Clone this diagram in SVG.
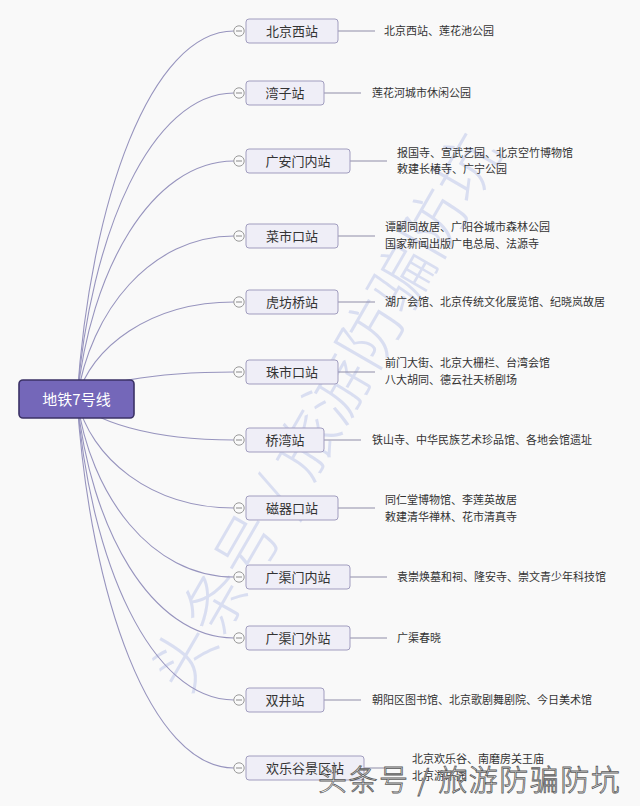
<svg xmlns="http://www.w3.org/2000/svg" width="640" height="806" viewBox="0 0 640 806">
<style>
.bg{fill:#f9f9f9}
.conn{fill:none;stroke:#9794be;stroke-width:1.1}
.lk{fill:none;stroke:#8f8da8;stroke-width:1}
.node rect{fill:#efeef7;stroke:#a19dbf;stroke-width:1}
.node text{font-family:"Noto Sans CJK SC","Microsoft YaHei",sans-serif;font-size:13px;fill:#333;text-anchor:middle}
.leaf{font-family:"Noto Sans CJK SC","Microsoft YaHei",sans-serif;font-size:11px;fill:#333}
.tog circle{fill:#fafafa;stroke:#9a9a9a;stroke-width:1}
.tog line{stroke:#8a8a8a;stroke-width:1}
</style>
<defs>
<g id="toggle" class="tog"><circle cx="0" cy="0" r="5.2"/><line x1="-3" y1="0" x2="3" y2="0"/></g>
</defs>
<rect class="bg" x="0" y="0" width="640" height="806"/>
<text transform="translate(330,415) rotate(-60)" text-anchor="middle" font-family="Noto Sans CJK SC,sans-serif" font-size="64" font-weight="300" fill="#ccd3ee" opacity="0.7" dominant-baseline="middle">头条号 / 旅游防骗防坑</text>
<g id="connectors">
<path class="conn" d="M77,399 C90,200 151,31 234,31"/>
<path class="conn" d="M77,399 C90,234 151,93 234,93"/>
<path class="conn" d="M77,399 C90,271 151,161 234,161"/>
<path class="conn" d="M77,399 C90,311 151,236 234,236"/>
<path class="conn" d="M77,399 C90,347 151,302 234,302"/>
<path class="conn" d="M77,399 C90,384 151,372 234,372"/>
<path class="conn" d="M77,399 C90,421 151,440 234,440"/>
<path class="conn" d="M77,399 C90,458 151,508 234,508"/>
<path class="conn" d="M77,399 C90,495 151,577 234,577"/>
<path class="conn" d="M77,399 C90,528 151,638 234,638"/>
<path class="conn" d="M77,399 C90,562 151,700 234,700"/>
<path class="conn" d="M77,399 C90,598 151,768 234,768"/>
<line class="lk" x1="338" y1="31" x2="375" y2="31"/>
<line class="lk" x1="324" y1="93" x2="361" y2="93"/>
<line class="lk" x1="350" y1="161" x2="387" y2="161"/>
<line class="lk" x1="338" y1="236" x2="375" y2="236"/>
<line class="lk" x1="338" y1="302" x2="375" y2="302"/>
<line class="lk" x1="338" y1="372" x2="375" y2="372"/>
<line class="lk" x1="324" y1="440" x2="361" y2="440"/>
<line class="lk" x1="338" y1="508" x2="375" y2="508"/>
<line class="lk" x1="350" y1="577" x2="387" y2="577"/>
<line class="lk" x1="350" y1="638" x2="387" y2="638"/>
<line class="lk" x1="324" y1="700" x2="361" y2="700"/>
<line class="lk" x1="364" y1="768" x2="401" y2="768"/>
</g>
<g id="root">
<rect x="19" y="380" width="115" height="38" rx="4" fill="#7467b9" stroke="#3b3266" stroke-width="1.6"/>
<text x="76.5" y="404.5" text-anchor="middle" font-family="Noto Sans CJK SC,Microsoft YaHei,sans-serif" font-size="15" fill="#ffffff">地铁7号线</text>
</g>
<g id="n1" class="node"><use href="#toggle" x="239" y="31"/><rect x="246" y="19" width="92" height="24" rx="3"/><text x="292" y="35.5">北京西站</text></g>
<g id="n2" class="node"><use href="#toggle" x="239" y="93"/><rect x="246" y="81" width="78" height="24" rx="3"/><text x="285" y="97.5">湾子站</text></g>
<g id="n3" class="node"><use href="#toggle" x="239" y="161"/><rect x="246" y="149" width="104" height="24" rx="3"/><text x="298" y="165.5">广安门内站</text></g>
<g id="n4" class="node"><use href="#toggle" x="239" y="236"/><rect x="246" y="224" width="92" height="24" rx="3"/><text x="292" y="240.5">菜市口站</text></g>
<g id="n5" class="node"><use href="#toggle" x="239" y="302"/><rect x="246" y="290" width="92" height="24" rx="3"/><text x="292" y="306.5">虎坊桥站</text></g>
<g id="n6" class="node"><use href="#toggle" x="239" y="372"/><rect x="246" y="360" width="92" height="24" rx="3"/><text x="292" y="376.5">珠市口站</text></g>
<g id="n7" class="node"><use href="#toggle" x="239" y="440"/><rect x="246" y="428" width="78" height="24" rx="3"/><text x="285" y="444.5">桥湾站</text></g>
<g id="n8" class="node"><use href="#toggle" x="239" y="508"/><rect x="246" y="496" width="92" height="24" rx="3"/><text x="292" y="512.5">磁器口站</text></g>
<g id="n9" class="node"><use href="#toggle" x="239" y="577"/><rect x="246" y="565" width="104" height="24" rx="3"/><text x="298" y="581.5">广渠门内站</text></g>
<g id="n10" class="node"><use href="#toggle" x="239" y="638"/><rect x="246" y="626" width="104" height="24" rx="3"/><text x="298" y="642.5">广渠门外站</text></g>
<g id="n11" class="node"><use href="#toggle" x="239" y="700"/><rect x="246" y="688" width="78" height="24" rx="3"/><text x="285" y="704.5">双井站</text></g>
<g id="n12" class="node"><use href="#toggle" x="239" y="768"/><rect x="246" y="756" width="118" height="24" rx="3"/><text x="305" y="772.5">欢乐谷景区站</text></g>
<g id="l1"><text class="leaf" x="384" y="35">北京西站、莲花池公园</text></g>
<g id="l2"><text class="leaf" x="372" y="97">莲花河城市休闲公园</text></g>
<g id="l3"><text class="leaf" x="397" y="156.5">报国寺、宣武艺园、北京空竹博物馆</text><text class="leaf" x="397" y="172.5">敕建长椿寺、广宁公园</text></g>
<g id="l4"><text class="leaf" x="385" y="231">谭嗣同故居、广阳谷城市森林公园</text><text class="leaf" x="385" y="248">国家新闻出版广电总局、法源寺</text></g>
<g id="l5"><text class="leaf" x="385" y="306">湖广会馆、北京传统文化展览馆、纪晓岚故居</text></g>
<g id="l6"><text class="leaf" x="385" y="366.5">前门大街、北京大栅栏、台湾会馆</text><text class="leaf" x="385" y="384">八大胡同、德云社天桥剧场</text></g>
<g id="l7"><text class="leaf" x="372" y="444">铁山寺、中华民族艺术珍品馆、各地会馆遗址</text></g>
<g id="l8"><text class="leaf" x="385" y="503.5">同仁堂博物馆、李莲英故居</text><text class="leaf" x="385" y="521">敕建清华禅林、花市清真寺</text></g>
<g id="l9"><text class="leaf" x="397" y="581">袁崇焕墓和祠、隆安寺、崇文青少年科技馆</text></g>
<g id="l10"><text class="leaf" x="397" y="642">广渠春晓</text></g>
<g id="l11"><text class="leaf" x="372" y="704">朝阳区图书馆、北京歌剧舞剧院、今日美术馆</text></g>
<g id="l12"><text class="leaf" x="412" y="763">北京欢乐谷、南磨房关王庙</text><text class="leaf" x="412" y="780">北京游乐园</text></g>
<text x="318" y="791" font-family="Noto Sans CJK SC,sans-serif" font-size="29" font-weight="300" fill="#ffffff" stroke="#5a5a5a" stroke-width="0.8" letter-spacing="1.5">头条号 / 旅游防骗防坑</text>
</svg>
